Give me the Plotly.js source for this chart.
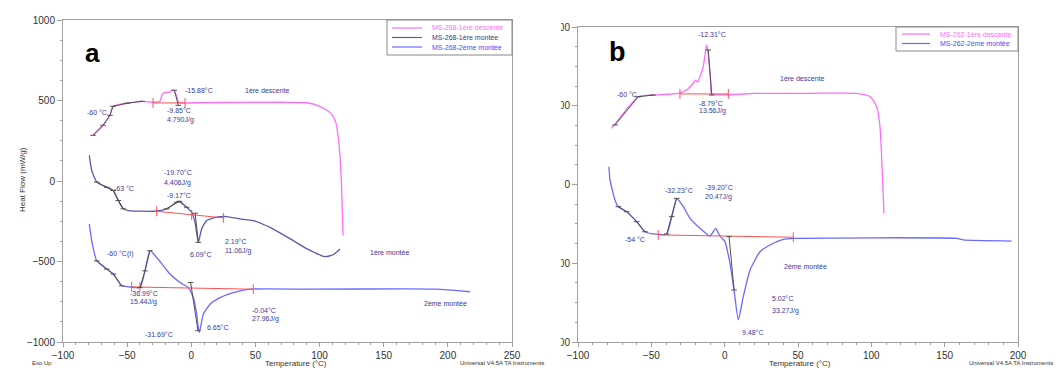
<!DOCTYPE html>
<html>
<head>
<meta charset="utf-8">
<script src="https://cdn.plot.ly/plotly-3.0.1.min.js"></script>
<style>html,body{margin:0;padding:0;background:#fff;}#chart{width:1059px;height:369px;}</style>
</head>
<body>
<div id="chart"></div>
<script>
// ---------- Panel a (MS-268) ----------
const aDescT = [-76.6,-68.8,-63.4,-61.0,-50.1,-38.4,-29.8,-24.4,-23.0,-21.5,-17.0,-14.0,-11.5,-10.0,-8.8,10,40,70,90.2,100,105.8,110,112.8,115.1,116.7,117.5,118.3];
const aDescH = [284,346,408,464,483,495,489,497,530,548,552,566,530,490,485,487,488,489,486,464,439,408,358,234,47,-121,-339];
const aM1T = [-79.5,-77.6,-73.7,-65.9,-60.8,-56.9,-53.0,-49.1,-29.6,-19.2,-11.4,-9.3,-3.6,0.3,2.9,5.5,8.1,12.0,19.8,27.6,38.0,48.3,61.4,76.9,89.9,104.2,110.7,115.9];
const aM1H = [159,65,-7,-39,-59,-121,-173,-184,-188,-173,-132,-126,-163,-194,-257,-381,-296,-246,-225,-221,-235,-246,-288,-358,-420,-470,-458,-422];
const aM2T = [-79.5,-77.6,-73.7,-65.9,-60.8,-54.2,-49.1,-40.0,-36.1,-32.2,-27.0,-21.8,-16.6,-8.8,-2.3,1.6,4.2,6.2,9.4,14.6,22.4,32.7,45.8,92.5,167.9,191.3,217.3];
const aM2H = [-267,-371,-496,-547,-578,-651,-657,-662,-558,-433,-475,-526,-578,-630,-662,-724,-827,-942,-827,-765,-724,-693,-672,-672,-670,-672,-688];
// integration baselines (red)
const aBase1T = [-29.8,-4.9],       aBase1H = [485,485];
const aBase2T = [-27.0,0.3,25.0],   aBase2H = [-188,-211,-229];
const aBase3T = [-46.5,-40.0,48.3], aBase3H = [-657,-659,-672];
// analysis overlays (dark)
const aDarkT = [[-76.6,-68.8,-63.4,-61.0,-50.1,-38.4],[-13.2,-10.1],[-73.7,-65.9,-60.8,-56.9,-53.0],[-19.2,-11.4,-9.3,-3.6],[3.0,5.5],[-73.7,-65.9,-60.8,-54.2],[-40.0,-36.1,-32.2],[-0.5,5.2]];
const aDarkH = [[284,346,408,464,483,495],[564,470],[-7,-39,-59,-121,-173],[-173,-132,-126,-163],[-200,-381],[-496,-547,-578,-651],[-662,-558,-433],[-630,-930]];

// ---------- Panel b (MS-262) ----------
const bDescT = [-77.0,-58.9,-48.7,-31.6,-25.9,-21.4,-19.8,-18.6,-16.8,-14.6,-13.4,-12.3,-11.2,-9.5,-8.8,20,60,90.0,99.3,103.7,105.9,107.1,108.6];
const bDescH = [357,557,568,579,600,643,662,650,684,748,822,886,830,650,575,578,579,579,557,494,367,156,-183];
const bM2T = [-78.9,-78.2,-74.8,-72.5,-66.8,-60.0,-54.3,-48.7,-39.5,-36.1,-32.7,-28.2,-23.6,-16.8,-10.0,-7.8,-6.1,-3.2,0.2,3.6,6.4,9.3,12.7,17.3,24.1,33.2,40.0,46.8,158.2,162.7,195.7];
const bM2H = [113,29,-98,-141,-173,-236,-300,-314,-314,-204,-88,-141,-215,-278,-327,-300,-278,-327,-363,-500,-670,-860,-712,-543,-427,-373,-348,-342,-342,-352,-359];
const bBase1T = [-30.5,2.5],  bBase1H = [575,575];
const bBase2T = [-45.3,46.8], bBase2H = [-320,-335];
const bDarkT = [[-74.8,-58.9,-48.7],[-11.2,-8.8],[-72.5,-66.8,-60.0,-54.3],[-39.5,-36.1,-32.7],[3.0,6.4]];
const bDarkH = [[378,557,568],[854,568],[-141,-173,-236,-300],[-314,-204,-88],[-331,-670]];

// tick labels
const aXTicks = [-100,-50,0,50,100,150,200,250];
const bXTicks = [-100,-50,0,50,100,150,200];
const yTicks = [-1000,-500,0,500,1000];

// ---------- styling ----------
const FONT = 'Liberation Sans, Arial, sans-serif';
const MAG = '#ff6cff', NAVY = '#5a5aae', BLUE = '#6a6aff', RED = '#ff5252', DARK = '#505050';
const W = 1059, H = 369;
const px = x => x / W, py = y => 1 - y / H;

const traces = [];
function curve(x, y, color, xa, ya, width) {
  traces.push({x, y, xaxis: xa, yaxis: ya, mode: 'lines', type: 'scatter',
    line: {color, width: width || 1.3, shape: 'spline', smoothing: 0.5}, hoverinfo: 'skip', showlegend: false});
}
function base(x, y, xa, ya) {
  traces.push({x, y, xaxis: xa, yaxis: ya, mode: 'lines+markers', type: 'scatter',
    line: {color: RED, width: 1}, marker: {symbol: 'line-ns', size: 7, line: {color: RED, width: 1}},
    hoverinfo: 'skip', showlegend: false});
}
function dark(x, y, xa, ya) {
  traces.push({x, y, xaxis: xa, yaxis: ya, mode: 'lines+markers', type: 'scatter',
    line: {color: DARK, width: 1}, marker: {symbol: 'line-ew', size: 4, line: {color: DARK, width: 1}},
    hoverinfo: 'skip', showlegend: false});
}

curve(aDescT, aDescH, MAG, 'x', 'y');
curve(aM1T, aM1H, NAVY, 'x', 'y');
curve(aM2T, aM2H, BLUE, 'x', 'y');
base(aBase1T, aBase1H, 'x', 'y');
base(aBase2T, aBase2H, 'x', 'y');
base(aBase3T, aBase3H, 'x', 'y');
aDarkT.forEach((t, i) => dark(t, aDarkH[i], 'x', 'y'));

curve(bDescT, bDescH, MAG, 'x2', 'y2');
curve(bM2T, bM2H, BLUE, 'x2', 'y2');
base(bBase1T, bBase1H, 'x2', 'y2');
base(bBase2T, bBase2H, 'x2', 'y2');
bDarkT.forEach((t, i) => dark(t, bDarkH[i], 'x2', 'y2'));

function xax(domain, range, ticks, anchor) {
  return {domain, range, anchor, tickvals: ticks, showline: true, mirror: true, linecolor: '#a0a0a0', linewidth: 1,
    ticks: 'outside', ticklen: 4, tickcolor: '#a0a0a0', showgrid: false, zeroline: false,
    minor: {dtick: 10, ticks: 'outside', ticklen: 2, tickcolor: '#a0a0a0', showgrid: false},
    tickfont: {family: FONT, size: 10, color: '#333'}, fixedrange: true};
}
function yax(domain, anchor) {
  return {domain, range: [-1000, 1000], anchor, tickvals: yTicks, showline: true, mirror: true, linecolor: '#a0a0a0', linewidth: 1,
    ticks: 'outside', ticklen: 5, tickcolor: '#a0a0a0', showgrid: false, zeroline: false,
    minor: {dtick: 125, ticks: 'outside', ticklen: 2, tickcolor: '#a0a0a0', showgrid: false},
    tickfont: {family: FONT, size: 10, color: '#333'}, fixedrange: true};
}

const TXT = '#3a3a9a';
function ann(text, x, y, o) {
  o = o || {};
  return Object.assign({text, x: px(x), y: py(y), xref: 'paper', yref: 'paper', xanchor: 'left', yanchor: 'middle',
    showarrow: false, font: {family: FONT, size: o.size || 7, color: o.color || TXT}}, o.extra || {});
}

const annotations = [
  // panel a
  ann('-60 °C', 85, 112), ann('-15.88°C', 183, 90), ann('-9.85°C', 165, 110), ann('4.790J/g', 165, 120),
  ann('1ère descente', 243, 90), ann('-19.70°C', 162, 172), ann('4.406J/g', 162, 183), ann('-63 °C', 112, 188),
  ann('-9.17°C', 165, 195), ann('6.09°C', 188, 254), ann('2.19°C', 223, 241), ann('11.06J/g', 223, 251),
  ann('1ère montée', 368, 252), ann('-60 °C(I)', 105, 254), ann('-36.99°C', 128, 293), ann('15.44J/g', 128, 302),
  ann('-31.69°C', 143, 334), ann('6.65°C', 205, 327), ann('-0.04°C', 250, 310), ann('27.96J/g', 250, 319),
  ann('2ème montée', 422, 303),
  // panel b
  ann('-60 °C', 615, 94), ann('-12.31°C', 696, 35), ann('-8.79°C', 697, 103), ann('13.56J/g', 697, 111),
  ann('1ère descente', 778, 79), ann('-32.23°C', 663, 190), ann('-39.20°C', 703, 187), ann('20.47J/g', 703, 197),
  ann('-54 °C', 623, 239), ann('9.48°C', 740, 332), ann('5.02°C', 770, 298), ann('33.27J/g', 770, 311),
  ann('2ème montée', 782, 266),
  // panel letters
  ann('<b>a</b>', 92, 53, {size: 26, color: '#000', extra: {xanchor: 'center'}}),
  ann('<b>b</b>', 617, 52, {size: 27, color: '#000', extra: {xanchor: 'center'}}),
  // axis titles & footers
  ann('Temperature (°C)', 296, 363, {size: 8, color: '#333', extra: {xanchor: 'center'}}),
  ann('Temperature (°C)', 800, 363, {size: 8, color: '#333', extra: {xanchor: 'center'}}),
  ann('Heat Flow (mW/g)', 22, 180, {size: 8, color: '#333', extra: {xanchor: 'center', textangle: -90}}),
  ann('Exo Up', 30, 363, {size: 6, color: '#333'}),
  ann('Universal V4.5A TA Instruments', 458, 363, {size: 6, color: '#333'}),
  ann('Universal V4.5A TA Instruments', 967, 363, {size: 6, color: '#333'}),
  // legends
  ann('MS-268-1ère descente', 430, 28, {size: 7, color: MAG}),
  ann('MS-268-1ère montée', 430, 37.5, {size: 7, color: '#3a3a8a'}),
  ann('MS-268-2ème montée', 430, 47, {size: 7, color: '#4a4aff'}),
  ann('MS-262-1ère descente', 938, 34, {size: 7, color: MAG}),
  ann('MS-262-2ème montée', 938, 43.5, {size: 7, color: '#4a4aff'})
];

function pline(x0, x1, y, color) {
  return {type: 'line', xref: 'paper', yref: 'paper', x0: px(x0), x1: px(x1), y0: py(y), y1: py(y), line: {color, width: 1.2}};
}
const shapes = [
  // mask cropping the left part of panel b tick labels
  {type: 'rect', xref: 'paper', yref: 'paper', x0: px(528), x1: px(561), y0: py(352), y1: py(12), fillcolor: '#fff', line: {width: 0}, layer: 'above'},
  // legend boxes
  {type: 'rect', xref: 'paper', yref: 'paper', x0: px(387), x1: px(512), y0: py(55), y1: py(20), line: {color: '#888', width: 1}, fillcolor: 'rgba(0,0,0,0)'},
  {type: 'rect', xref: 'paper', yref: 'paper', x0: px(896), x1: px(1018), y0: py(51), y1: py(27), line: {color: '#888', width: 1}, fillcolor: 'rgba(0,0,0,0)'},
  pline(392, 422, 28, MAG), pline(392, 422, 37.5, NAVY), pline(392, 422, 47, BLUE),
  pline(902, 930, 34, MAG), pline(902, 930, 43.5, BLUE)
];

const layout = {
  width: W, height: H, margin: {l: 0, r: 0, t: 0, b: 0}, paper_bgcolor: '#fff', plot_bgcolor: '#fff',
  showlegend: false, font: {family: FONT},
  xaxis: xax([px(63), px(512)], [-100, 250], aXTicks, 'y'),
  yaxis: yax([py(342), py(20)], 'x'),
  xaxis2: xax([px(578), px(1018)], [-100, 200], bXTicks, 'y2'),
  yaxis2: yax([py(342), py(27)], 'x2'),
  annotations, shapes
};

Plotly.newPlot('chart', traces, layout, {staticPlot: true, displayModeBar: false});
</script>
</body>
</html>
